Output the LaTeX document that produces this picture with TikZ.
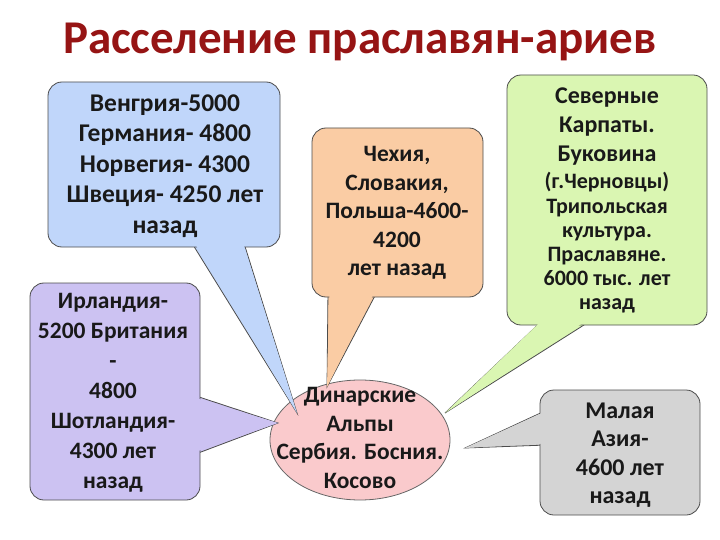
\documentclass[tikz,border=0pt]{standalone}
\usepackage{fontspec}
\usetikzlibrary{shapes.geometric}
\setmainfont{Carlito}
\begin{document}
\begin{tikzpicture}[x=1pt,y=-1pt,
  bx/.style={draw=black!70,line width=0.8pt,rounded corners=14pt},
  tl/.style={draw=black!70,line width=0.8pt,line join=miter},
  txt/.style={font=\bfseries\fontsize{23.5}{29.5}\selectfont,align=center,text=black!90}]
\useasboundingbox (0,0) rectangle (720,540);
\definecolor{cb}{RGB}{192,214,250}
\definecolor{cp}{RGB}{204,194,242}
\definecolor{co}{RGB}{250,204,164}
\definecolor{cg}{RGB}{218,246,178}
\definecolor{ck}{RGB}{250,202,204}
\definecolor{cy}{RGB}{212,212,212}
\definecolor{ttl}{RGB}{150,20,20}
\node[font=\bfseries\fontsize{47}{50}\selectfont,text=ttl] (title) at (360,42) {Расселение праславян-ариев};
% ellipse
\node[draw=black!60,fill=ck,ellipse,minimum width=180,minimum height=120,line width=0.8pt] (el) at (360,440) {};
\coordinate (tb) at (297,413);
\coordinate (tp) at (278,423);
\coordinate (to) at (327,387);
\coordinate (tg) at (445,413);
\coordinate (ty) at (465,448);
% tails with border
\fill[cb,tl] (190,240) -- (tb) -- (243,240) -- cycle;
\fill[cp,tl] (193,395) -- (tp) -- (193,455) -- cycle;
\fill[co,tl] (328,290) -- (to) -- (378,290) -- cycle;
\fill[cg,tl] (545,318) -- (tg) -- (595,318) -- cycle;
\fill[cy,tl] (547,410) -- (ty) -- (547,445) -- cycle;
% boxes
\draw[bx,fill=cb] (48,82) rectangle (280,247);
\draw[bx,fill=cp] (30,283) rectangle (200,500);
\draw[bx,fill=co] (312,128) rectangle (483,297);
\draw[bx,fill=cg] (507,75) rectangle (707,325);
\draw[bx,fill=cy] (540,390) rectangle (700,515);
% refill tails
\fill[cb] (191.5,238) -- (tb) -- (241.5,238) -- cycle;
\fill[cp] (191,396.5) -- (tp) -- (191,453.5) -- cycle;
\fill[co] (329.5,288) -- (to) -- (376.5,288) -- cycle;
\fill[cg] (546.5,316) -- (tg) -- (593.5,316) -- cycle;
\fill[cy] (545,411.5) -- (ty) -- (545,443.5) -- cycle;
% texts
\node[txt,font=\bfseries\fontsize{25.5}{30.5}\selectfont] (tb1) at (165,166) {Венгрия-5000\\Германия- 4800\\Норвегия- 4300\\Швеция- 4250 лет\\назад};
\node[txt,font=\bfseries\fontsize{23.5}{30}\selectfont] (tp1) at (113,393) {Ирландия-\\5200 Британия\\-\\4800\\Шотландия-\\4300 лет\\назад};
\node[txt,font=\bfseries\fontsize{23.5}{28.5}\selectfont] (to1) at (397,213) {Чехия,\\Словакия,\\Польша-4600-\\4200\\лет назад};
\node[txt,font=\bfseries\fontsize{24}{29}\selectfont] (tg1) at (607,127) {Северные\\Карпаты.\\Буковина};
\node[txt,font=\bfseries\fontsize{22}{24.2}\selectfont] (tg2) at (607,243) {(г.Черновцы)\\Трипольская\\культура.\\Праславяне.\\6000 тыс. лет\\назад};
\node[txt,font=\bfseries\fontsize{23.5}{28.7}\selectfont] (te1) at (360,438) {Динарские\\Альпы\\Сербия. Босния.\\Косово};
\node[txt,font=\bfseries\fontsize{24}{28.5}\selectfont] (ty1) at (620,455) {Малая\\Азия-\\4600 лет\\назад};
\end{tikzpicture}
\end{document}
